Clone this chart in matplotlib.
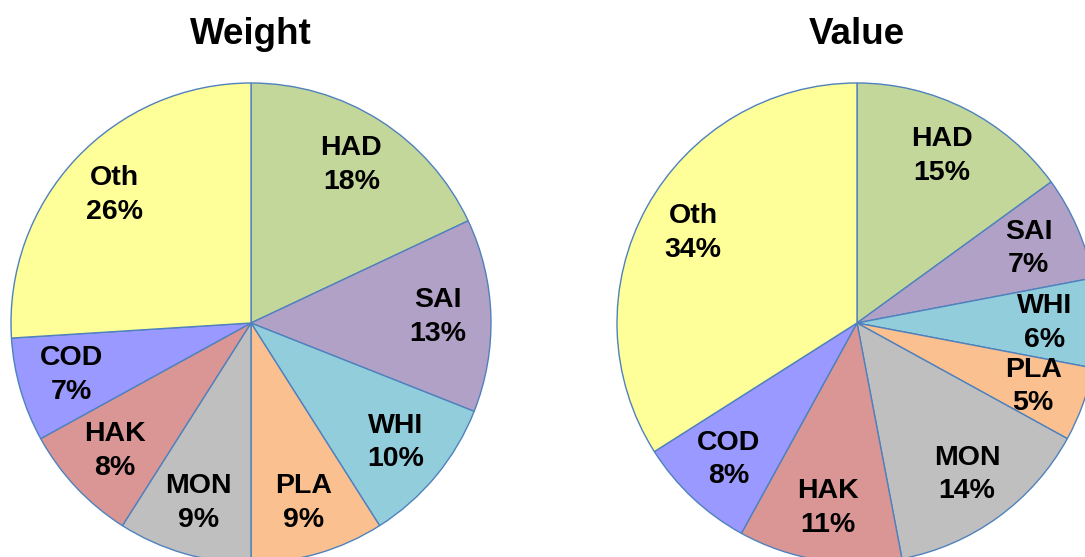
import matplotlib
matplotlib.use("Agg")
import matplotlib.pyplot as plt

categories = ["HAD", "SAI", "WHI", "PLA", "MON", "HAK", "COD", "Oth"]
weight_pct = [18, 13, 10, 9, 9, 8, 7, 26]
value_pct = [15, 7, 6, 5, 14, 11, 8, 34]
titles = ["Weight", "Value"]

colors = ["#C4D79B", "#B2A1C7", "#92CDDC", "#FAC090",
          "#BFBFBF", "#D99694", "#9999FF", "#FFFF99"]

plt.rcParams['font.family'] = ['Liberation Sans', 'DejaVu Sans']

W, H = 1085, 557
fig = plt.figure(figsize=(W / 100, H / 100), dpi=100)
ax = fig.add_axes([0, 0, 1, 1])
ax.set_xlim(0, W)
ax.set_ylim(0, H)
ax.set_aspect('equal')
ax.axis('off')

centers = [(251, H - 323), (857, H - 323)]
radius = 240

for data, title, (cx, cy) in zip([weight_pct, value_pct], titles, centers):
    labels = [f"{c}\n{v}%" for c, v in zip(categories, data)]
    wedges, texts = ax.pie(
        data, labels=labels, colors=colors, startangle=90, counterclock=False,
        center=(cx, cy), radius=radius, labeldistance=0.78,
        wedgeprops=dict(edgecolor="#4F81BD", linewidth=1.0),
        textprops=dict(fontsize=20.5, fontweight='bold', color='black',
                       ha='center', va='center', linespacing=1.38),
        frame=True)
    for t in texts:
        t.set_horizontalalignment('center')
        t.set_verticalalignment('center')
    ax.text(cx, H - 44, title, fontsize=26.5, fontweight='bold',
            ha='center', va='baseline')

ax.set_xlim(0, W)
ax.set_ylim(0, H)
ax.axis('off')
fig.savefig("out.png", dpi=100)
